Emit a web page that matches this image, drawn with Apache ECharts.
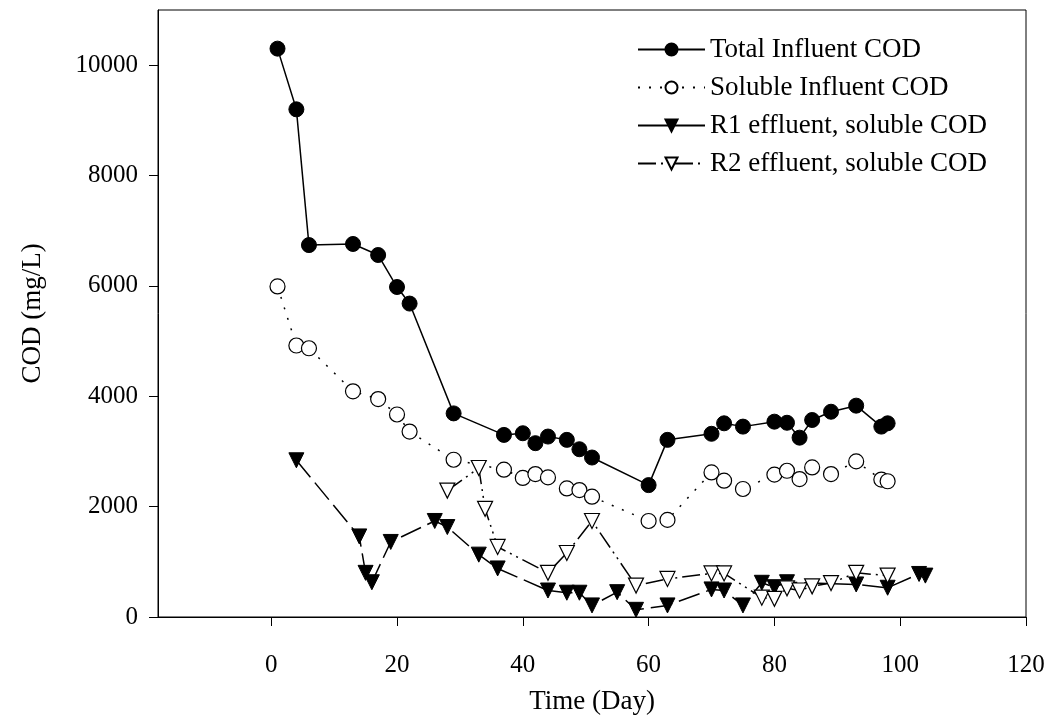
<!DOCTYPE html>
<html>
<head>
<meta charset="utf-8">
<script src="https://cdn.jsdelivr.net/npm/echarts@6/dist/echarts.min.js"></script>
<style>html,body{margin:0;padding:0;background:#fff}#c{width:1049px;height:728px}</style>
</head>
<body>
<div id="c"></div>
<script>
const xTicks = [0, 20, 40, 60, 80, 100, 120];
const yTicks = [0, 2000, 4000, 6000, 8000, 10000];

const totalDays = [1, 4, 6, 13, 17, 20, 22, 29, 37, 40, 42, 44, 47, 49, 51, 60, 63, 70, 72, 75, 80, 82, 84, 86, 89, 93, 97, 98];
const totalCOD  = [10300, 9200, 6740, 6760, 6560, 5980, 5680, 3690, 3300, 3330, 3150, 3270, 3210, 3040, 2890, 2390, 3210, 3320, 3510, 3450, 3540, 3520, 3250, 3570, 3720, 3830, 3450, 3510];

const solDays = [1, 4, 6, 13, 17, 20, 22, 29, 37, 40, 42, 44, 47, 49, 51, 60, 63, 70, 72, 75, 80, 82, 84, 86, 89, 93, 97, 98];
const solCOD  = [5990, 4920, 4870, 4090, 3950, 3670, 3360, 2850, 2670, 2520, 2590, 2530, 2330, 2300, 2180, 1740, 1760, 2620, 2470, 2320, 2580, 2650, 2500, 2710, 2590, 2820, 2490, 2460];

const r1Days = [4, 14, 15, 16, 19, 26, 28, 33, 36, 44, 47, 49, 51, 55, 58, 63, 70, 72, 75, 78, 80, 82, 93, 98, 103, 104];
const r1COD  = [2840, 1460, 800, 630, 1360, 1740, 1630, 1130, 880, 480, 440, 440, 210, 450, 130, 210, 500, 480, 210, 620, 540, 630, 590, 530, 780, 750];

const r2Days = [28, 33, 34, 36, 44, 47, 51, 58, 63, 70, 72, 78, 80, 82, 84, 86, 89, 93, 98];
const r2COD  = [2290, 2700, 1960, 1270, 800, 1160, 1740, 570, 690, 790, 790, 350, 330, 520, 480, 555, 615, 800, 750];

const pair = (xs, ys) => xs.map((x, i) => [x, ys[i]]);
const FONT = '"Liberation Serif", "Times New Roman", serif';

const chart = echarts.init(document.getElementById('c'), null, {renderer: 'canvas'});
chart.setOption({
  animation: false,
  backgroundColor: '#fff',
  textStyle: {fontFamily: FONT, color: '#000'},
  grid: {left: 158, right: 23, top: 10, bottom: 111, show: true, borderColor: '#000', borderWidth: 1, backgroundColor: 'transparent'},
  legend: {
    orient: 'vertical', left: 632, top: 31, itemWidth: 67, itemHeight: 15, itemGap: 11,
    textStyle: {fontFamily: FONT, fontSize: 27, color: '#000'},
    data: [
      {name: 'Total Influent COD'},
      {name: 'Soluble Influent COD'},
      {name: 'R1 effluent, soluble COD', lineStyle: {type: 'solid'}},
      {name: 'R2 effluent, soluble COD'}
    ]
  },
  xAxis: {
    type: 'value', min: -18, max: 120,
    name: 'Time (Day)', nameLocation: 'middle', nameGap: 71,
    nameTextStyle: {fontFamily: FONT, fontSize: 27, color: '#000'},
    axisLine: {show: true, onZero: false, lineStyle: {color: '#000', width: 1}},
    axisTick: {show: true, inside: false, length: 9, customValues: xTicks, lineStyle: {color: '#000'}},
    axisLabel: {customValues: xTicks, margin: 36, fontFamily: FONT, fontSize: 25, color: '#000', formatter: v => String(v)},
    splitLine: {show: false}
  },
  yAxis: {
    type: 'value', min: 0, max: 11000,
    name: 'COD (mg/L)', nameLocation: 'middle', nameGap: 112, nameRotate: 90,
    nameTextStyle: {fontFamily: FONT, fontSize: 27, color: '#000'},
    axisLine: {show: true, onZero: false, lineStyle: {color: '#000', width: 1}},
    axisTick: {show: true, inside: false, length: 9, customValues: yTicks, lineStyle: {color: '#000'}},
    axisLabel: {customValues: yTicks, margin: 20, fontFamily: FONT, fontSize: 25, color: '#000', formatter: v => String(v)},
    splitLine: {show: false}
  },
  series: [
    {
      name: 'Total Influent COD', type: 'line', data: pair(totalDays, totalCOD),
      symbol: 'circle', symbolSize: 15,
      itemStyle: {color: '#000', borderColor: '#000', borderWidth: 1},
      lineStyle: {color: '#000', width: 1.5, type: 'solid'}, z: 4
    },
    {
      name: 'Soluble Influent COD', type: 'line', data: pair(solDays, solCOD),
      symbol: 'circle', symbolSize: 15,
      itemStyle: {color: '#fff', borderColor: '#000', borderWidth: 1.2},
      lineStyle: {color: '#000', width: 1.5, type: [2, 9]}, z: 3
    },
    {
      name: 'R1 effluent, soluble COD', type: 'line', data: pair(r1Days, r1COD),
      symbol: 'triangle', symbolRotate: 180, symbolSize: 15,
      itemStyle: {color: '#000', borderColor: '#000', borderWidth: 1},
      lineStyle: {color: '#000', width: 1.5, type: [22, 7]}, z: 5
    },
    {
      name: 'R2 effluent, soluble COD', type: 'line', data: pair(r2Days, r2COD),
      symbol: 'triangle', symbolRotate: 180, symbolSize: 15,
      itemStyle: {color: '#fff', borderColor: '#000', borderWidth: 1.2},
      lineStyle: {color: '#000', width: 1.5, type: [18, 5, 2, 5, 2, 5]}, z: 6
    }
  ]
});
</script>
</body>
</html>
